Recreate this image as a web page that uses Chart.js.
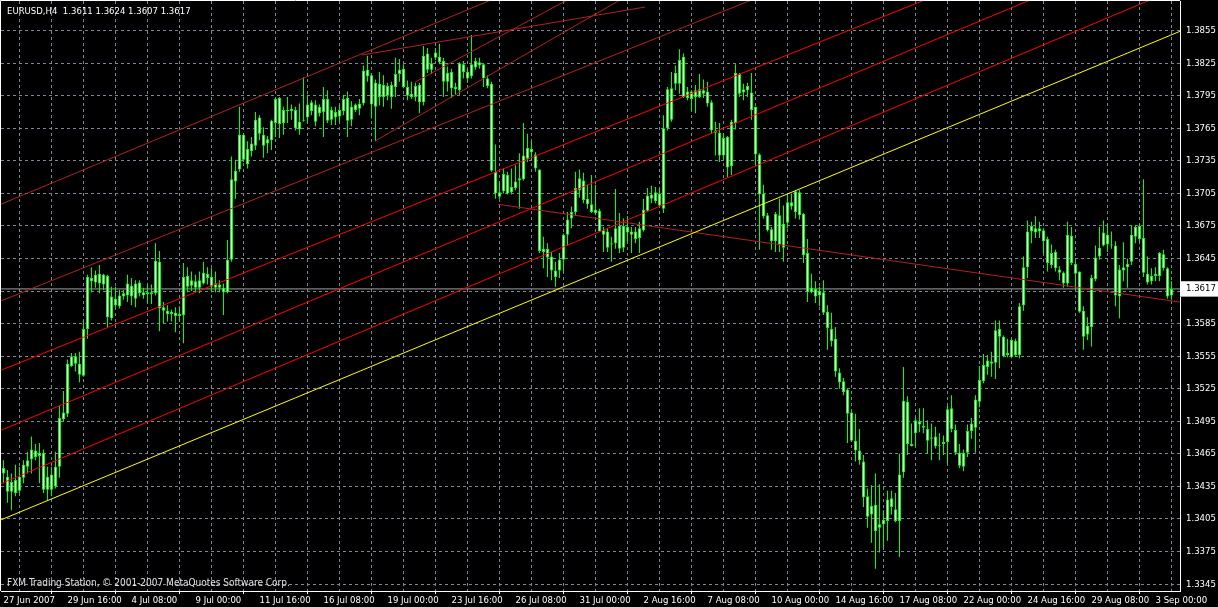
<!DOCTYPE html>
<html>
<head>
<meta charset="utf-8">
<script src="https://cdn.jsdelivr.net/npm/chart.js@4/dist/chart.umd.min.js"></script>
<style>
    html, body { margin: 0; padding: 0; background: #000; }
    #wrap { position: relative; width: 1218px; height: 607px; overflow: hidden; background: #000; }
    canvas { display: block; }
    .lbl { position: absolute; color: #fff; font-family: "DejaVu Sans Condensed", "Liberation Sans", sans-serif; white-space: pre; }
</style>
</head>
<body>
<div id="wrap">
    <canvas id="chart" width="1218" height="607"></canvas>
    <div class="lbl" id="header" style="left:7px; top:5px; font-size:9.5px; line-height:11px;"></div>
    <div class="lbl" id="copy" style="left:7px; top:577px; font-size:10px; line-height:11px; color:#e0e0e0;">FXM Trading Station, © 2001-2007 MetaQuotes Software Corp.</div>
</div>
<script>
const symbol = 'EURUSD,H4';

// time labels, one every 16 bars (H4)
const timeLabels = ['27 Jun 2007', '29 Jun 16:00', '4 Jul 08:00', '9 Jul 00:00', '11 Jul 16:00', '16 Jul 08:00',
    '19 Jul 00:00', '23 Jul 16:00', '26 Jul 08:00', '31 Jul 00:00', '2 Aug 16:00', '7 Aug 08:00', '10 Aug 00:00',
    '14 Aug 16:00', '17 Aug 08:00', '22 Aug 00:00', '24 Aug 16:00', '29 Aug 08:00', '3 Sep 00:00'];

const priceTicks = [1.3345, 1.3375, 1.3405, 1.3435, 1.3465, 1.3495, 1.3525, 1.3555, 1.3585, 1.3615,
    1.3645, 1.3675, 1.3705, 1.3735, 1.3765, 1.3795, 1.3825, 1.3855];
const hiddenTick = 1.3615;
const bidPrice = 1.3617;

const opens = [
    1.3447, 1.3444, 1.3430, 1.3441, 1.3431, 1.3443, 1.3453, 1.3460, 1.3468, 1.3463,
    1.3466, 1.3432, 1.3446, 1.3435, 1.3453, 1.3497, 1.3502, 1.3546, 1.3555, 1.3548,
    1.3537, 1.3580, 1.3627, 1.3623, 1.3631, 1.3621, 1.3629, 1.3590, 1.3608, 1.3601,
    1.3610, 1.3611, 1.3620, 1.3608, 1.3623, 1.3614, 1.3612, 1.3614, 1.3613, 1.3642,
    1.3600, 1.3597, 1.3594, 1.3595, 1.3592, 1.3593, 1.3629, 1.3620, 1.3624, 1.3618,
    1.3622, 1.3631, 1.3628, 1.3622, 1.3618, 1.3618, 1.3614, 1.3644, 1.3716, 1.3727,
    1.3759, 1.3732, 1.3744, 1.3749, 1.3775, 1.3759, 1.3751, 1.3754, 1.3770, 1.3793,
    1.3770, 1.3782, 1.3781, 1.3782, 1.3764, 1.3772, 1.3775, 1.3789, 1.3787, 1.3779,
    1.3780, 1.3792, 1.3773, 1.3780, 1.3776, 1.3781, 1.3793, 1.3773, 1.3782, 1.3783,
    1.3788, 1.3813, 1.3814, 1.3785, 1.3806, 1.3794, 1.3804, 1.3794, 1.3803, 1.3815,
    1.3820, 1.3803, 1.3794, 1.3794, 1.3805, 1.3789, 1.3834, 1.3819, 1.3830, 1.3831,
    1.3827, 1.3808, 1.3817, 1.3801, 1.3800, 1.3824, 1.3817, 1.3813, 1.3821, 1.3826,
    1.3824, 1.3811, 1.3806, 1.3725, 1.3706, 1.3707, 1.3722, 1.3706, 1.3710, 1.3717,
    1.3718, 1.3737, 1.3746, 1.3741, 1.3727, 1.3651, 1.3654, 1.3647, 1.3634, 1.3634,
    1.3644, 1.3667, 1.3682, 1.3688, 1.3708, 1.3717, 1.3700, 1.3695, 1.3687, 1.3689,
    1.3671, 1.3670, 1.3658, 1.3659, 1.3675, 1.3655, 1.3674, 1.3670, 1.3670, 1.3664,
    1.3671, 1.3689, 1.3704, 1.3698, 1.3705, 1.3691, 1.3765, 1.3802, 1.3806, 1.3806,
    1.3831, 1.3793, 1.3799, 1.3794, 1.3801, 1.3797, 1.3799, 1.3789, 1.3763, 1.3761,
    1.3740, 1.3757, 1.3730, 1.3770, 1.3815, 1.3798, 1.3800, 1.3798, 1.3785, 1.3741,
    1.3705, 1.3685, 1.3672, 1.3661, 1.3685, 1.3655, 1.3678, 1.3697, 1.3688, 1.3706,
    1.3686, 1.3650, 1.3614, 1.3617, 1.3611, 1.3614, 1.3596, 1.3580, 1.3571, 1.3540,
    1.3532, 1.3524, 1.3503, 1.3477, 1.3468, 1.3458, 1.3426, 1.3409, 1.3418, 1.3397,
    1.3400, 1.3403, 1.3424, 1.3414, 1.3403, 1.3448, 1.3513, 1.3474, 1.3484, 1.3495,
    1.3491, 1.3488, 1.3479, 1.3481, 1.3472, 1.3474, 1.3476, 1.3507, 1.3487, 1.3466,
    1.3453, 1.3466, 1.3486, 1.3489, 1.3513, 1.3532, 1.3545, 1.3550, 1.3549, 1.3580,
    1.3573, 1.3556, 1.3570, 1.3556, 1.3556, 1.3602, 1.3637, 1.3670, 1.3673, 1.3670,
    1.3671, 1.3663, 1.3639, 1.3651, 1.3635, 1.3632, 1.3622, 1.3666, 1.3640, 1.3633,
    1.3597, 1.3575, 1.3582, 1.3626, 1.3647, 1.3657, 1.3667, 1.3658, 1.3657, 1.3610,
    1.3634, 1.3637, 1.3642, 1.3665, 1.3675, 1.3664, 1.3631, 1.3624, 1.3629, 1.3629,
    1.3649, 1.3636, 1.3611
];

const highs = [
    1.3459, 1.3450, 1.3447, 1.3455, 1.3453, 1.3459, 1.3467, 1.3481, 1.3474, 1.3475,
    1.3469, 1.3453, 1.3453, 1.3467, 1.3509, 1.3523, 1.3552, 1.3558, 1.3558, 1.3559,
    1.3588, 1.3630, 1.3637, 1.3634, 1.3639, 1.3631, 1.3630, 1.3619, 1.3619, 1.3616,
    1.3616, 1.3630, 1.3627, 1.3625, 1.3625, 1.3618, 1.3621, 1.3621, 1.3659, 1.3652,
    1.3605, 1.3602, 1.3598, 1.3600, 1.3601, 1.3641, 1.3637, 1.3633, 1.3630, 1.3633,
    1.3642, 1.3637, 1.3636, 1.3633, 1.3625, 1.3622, 1.3662, 1.3739, 1.3736, 1.3785,
    1.3760, 1.3753, 1.3757, 1.3780, 1.3777, 1.3766, 1.3758, 1.3773, 1.3793, 1.3794,
    1.3785, 1.3794, 1.3787, 1.3785, 1.3788, 1.3812, 1.3796, 1.3791, 1.3791, 1.3787,
    1.3803, 1.3800, 1.3785, 1.3785, 1.3787, 1.3796, 1.3799, 1.3790, 1.3788, 1.3792,
    1.3823, 1.3832, 1.3816, 1.3810, 1.3817, 1.3814, 1.3807, 1.3808, 1.3830, 1.3829,
    1.3824, 1.3809, 1.3808, 1.3807, 1.3807, 1.3841, 1.3839, 1.3830, 1.3839, 1.3843,
    1.3830, 1.3822, 1.3820, 1.3807, 1.3826, 1.3827, 1.3820, 1.3851, 1.3830, 1.3830,
    1.3825, 1.3814, 1.3808, 1.3750, 1.3716, 1.3728, 1.3725, 1.3728, 1.3731, 1.3742,
    1.3770, 1.3760, 1.3753, 1.3743, 1.3727, 1.3665, 1.3659, 1.3651, 1.3642, 1.3650,
    1.3668, 1.3688, 1.3693, 1.3725, 1.3727, 1.3724, 1.3713, 1.3722, 1.3713, 1.3691,
    1.3674, 1.3673, 1.3665, 1.3709, 1.3687, 1.3682, 1.3684, 1.3674, 1.3674, 1.3679,
    1.3700, 1.3710, 1.3712, 1.3711, 1.3710, 1.3777, 1.3803, 1.3817, 1.3823, 1.3838,
    1.3834, 1.3803, 1.3800, 1.3805, 1.3815, 1.3810, 1.3808, 1.3791, 1.3771, 1.3770,
    1.3760, 1.3758, 1.3773, 1.3824, 1.3816, 1.3806, 1.3807, 1.3816, 1.3785, 1.3742,
    1.3713, 1.3687, 1.3674, 1.3688, 1.3700, 1.3694, 1.3704, 1.3705, 1.3708, 1.3708,
    1.3687, 1.3663, 1.3631, 1.3624, 1.3619, 1.3625, 1.3602, 1.3595, 1.3582, 1.3544,
    1.3535, 1.3525, 1.3504, 1.3502, 1.3488, 1.3464, 1.3433, 1.3436, 1.3447, 1.3437,
    1.3413, 1.3431, 1.3431, 1.3429, 1.3465, 1.3545, 1.3518, 1.3493, 1.3498, 1.3507,
    1.3507, 1.3496, 1.3493, 1.3490, 1.3484, 1.3482, 1.3509, 1.3519, 1.3492, 1.3474,
    1.3469, 1.3492, 1.3498, 1.3519, 1.3546, 1.3557, 1.3556, 1.3559, 1.3588, 1.3588,
    1.3574, 1.3571, 1.3571, 1.3571, 1.3604, 1.3647, 1.3680, 1.3679, 1.3684, 1.3679,
    1.3673, 1.3665, 1.3658, 1.3653, 1.3638, 1.3633, 1.3679, 1.3674, 1.3642, 1.3633,
    1.3601, 1.3591, 1.3630, 1.3657, 1.3674, 1.3680, 1.3677, 1.3670, 1.3661, 1.3639,
    1.3660, 1.3645, 1.3676, 1.3676, 1.3677, 1.3718, 1.3647, 1.3636, 1.3637, 1.3651,
    1.3653, 1.3637, 1.3624
];

const lows = [
    1.3438, 1.3420, 1.3413, 1.3426, 1.3429, 1.3438, 1.3447, 1.3447, 1.3459, 1.3438,
    1.3429, 1.3422, 1.3426, 1.3433, 1.3443, 1.3495, 1.3499, 1.3545, 1.3541, 1.3531,
    1.3536, 1.3571, 1.3614, 1.3618, 1.3613, 1.3616, 1.3582, 1.3588, 1.3600, 1.3599,
    1.3607, 1.3605, 1.3602, 1.3600, 1.3610, 1.3608, 1.3604, 1.3603, 1.3611, 1.3578,
    1.3585, 1.3587, 1.3587, 1.3577, 1.3587, 1.3567, 1.3614, 1.3615, 1.3614, 1.3613,
    1.3621, 1.3621, 1.3614, 1.3614, 1.3614, 1.3593, 1.3613, 1.3642, 1.3700, 1.3725,
    1.3734, 1.3728, 1.3739, 1.3745, 1.3754, 1.3738, 1.3742, 1.3745, 1.3757, 1.3756,
    1.3759, 1.3770, 1.3773, 1.3763, 1.3759, 1.3771, 1.3770, 1.3777, 1.3767, 1.3776,
    1.3757, 1.3770, 1.3768, 1.3768, 1.3771, 1.3777, 1.3757, 1.3767, 1.3780, 1.3777,
    1.3786, 1.3808, 1.3774, 1.3753, 1.3786, 1.3785, 1.3791, 1.3783, 1.3794, 1.3808,
    1.3802, 1.3791, 1.3792, 1.3790, 1.3779, 1.3786, 1.3816, 1.3815, 1.3828, 1.3824,
    1.3794, 1.3799, 1.3793, 1.3796, 1.3796, 1.3811, 1.3807, 1.3811, 1.3819, 1.3820,
    1.3803, 1.3802, 1.3725, 1.3700, 1.3700, 1.3705, 1.3704, 1.3704, 1.3708, 1.3691,
    1.3717, 1.3734, 1.3736, 1.3725, 1.3650, 1.3636, 1.3628, 1.3625, 1.3619, 1.3627,
    1.3633, 1.3657, 1.3673, 1.3685, 1.3701, 1.3696, 1.3691, 1.3687, 1.3685, 1.3670,
    1.3651, 1.3651, 1.3642, 1.3654, 1.3650, 1.3651, 1.3661, 1.3650, 1.3659, 1.3650,
    1.3670, 1.3688, 1.3696, 1.3696, 1.3693, 1.3687, 1.3763, 1.3771, 1.3800, 1.3797,
    1.3793, 1.3791, 1.3781, 1.3779, 1.3793, 1.3793, 1.3785, 1.3760, 1.3740, 1.3734,
    1.3736, 1.3720, 1.3722, 1.3764, 1.3794, 1.3791, 1.3794, 1.3773, 1.3730, 1.3653,
    1.3682, 1.3670, 1.3653, 1.3651, 1.3651, 1.3642, 1.3673, 1.3690, 1.3682, 1.3681,
    1.3641, 1.3605, 1.3613, 1.3604, 1.3601, 1.3593, 1.3561, 1.3564, 1.3536, 1.3525,
    1.3519, 1.3475, 1.3476, 1.3458, 1.3455, 1.3416, 1.3397, 1.3383, 1.3359, 1.3374,
    1.3378, 1.3385, 1.3409, 1.3402, 1.3370, 1.3443, 1.3464, 1.3472, 1.3472, 1.3485,
    1.3484, 1.3465, 1.3459, 1.3470, 1.3459, 1.3464, 1.3456, 1.3485, 1.3464, 1.3452,
    1.3449, 1.3462, 1.3479, 1.3466, 1.3508, 1.3530, 1.3538, 1.3536, 1.3534, 1.3544,
    1.3554, 1.3554, 1.3553, 1.3555, 1.3553, 1.3597, 1.3627, 1.3659, 1.3664, 1.3664,
    1.3650, 1.3633, 1.3636, 1.3633, 1.3625, 1.3618, 1.3619, 1.3639, 1.3616, 1.3595,
    1.3561, 1.3570, 1.3564, 1.3624, 1.3644, 1.3656, 1.3651, 1.3654, 1.3601, 1.3590,
    1.3624, 1.3618, 1.3639, 1.3659, 1.3661, 1.3628, 1.3621, 1.3621, 1.3624, 1.3624,
    1.3634, 1.3608, 1.3607
];

const closes = [
    1.3452, 1.3430, 1.3439, 1.3429, 1.3444, 1.3455, 1.3459, 1.3469, 1.3462, 1.3466,
    1.3432, 1.3444, 1.3432, 1.3453, 1.3498, 1.3503, 1.3548, 1.3555, 1.3548, 1.3538,
    1.3580, 1.3628, 1.3624, 1.3630, 1.3622, 1.3630, 1.3591, 1.3610, 1.3602, 1.3611,
    1.3613, 1.3622, 1.3610, 1.3622, 1.3613, 1.3611, 1.3614, 1.3612, 1.3643, 1.3599,
    1.3597, 1.3594, 1.3596, 1.3592, 1.3594, 1.3628, 1.3619, 1.3625, 1.3618, 1.3625,
    1.3632, 1.3627, 1.3619, 1.3618, 1.3621, 1.3614, 1.3644, 1.3718, 1.3726, 1.3759,
    1.3736, 1.3746, 1.3751, 1.3773, 1.3760, 1.3749, 1.3755, 1.3772, 1.3792, 1.3769,
    1.3782, 1.3781, 1.3783, 1.3765, 1.3771, 1.3773, 1.3787, 1.3781, 1.3771, 1.3785,
    1.3792, 1.3772, 1.3782, 1.3775, 1.3782, 1.3792, 1.3772, 1.3785, 1.3787, 1.3788,
    1.3818, 1.3819, 1.3787, 1.3807, 1.3794, 1.3805, 1.3795, 1.3805, 1.3815, 1.3819,
    1.3803, 1.3795, 1.3797, 1.3804, 1.3789, 1.3832, 1.3819, 1.3825, 1.3835, 1.3826,
    1.3808, 1.3816, 1.3802, 1.3803, 1.3825, 1.3817, 1.3811, 1.3824, 1.3827, 1.3823,
    1.3811, 1.3804, 1.3726, 1.3705, 1.3702, 1.3723, 1.3705, 1.3711, 1.3716, 1.3719,
    1.3740, 1.3747, 1.3743, 1.3728, 1.3652, 1.3654, 1.3646, 1.3634, 1.3628, 1.3644,
    1.3667, 1.3681, 1.3688, 1.3710, 1.3719, 1.3699, 1.3695, 1.3688, 1.3690, 1.3670,
    1.3667, 1.3655, 1.3659, 1.3673, 1.3654, 1.3675, 1.3669, 1.3667, 1.3663, 1.3673,
    1.3690, 1.3703, 1.3700, 1.3706, 1.3694, 1.3765, 1.3801, 1.3773, 1.3816, 1.3828,
    1.3794, 1.3799, 1.3792, 1.3800, 1.3794, 1.3800, 1.3788, 1.3763, 1.3761, 1.3740,
    1.3756, 1.3729, 1.3771, 1.3816, 1.3797, 1.3801, 1.3804, 1.3782, 1.3741, 1.3704,
    1.3684, 1.3671, 1.3661, 1.3686, 1.3658, 1.3677, 1.3697, 1.3693, 1.3707, 1.3685,
    1.3648, 1.3614, 1.3618, 1.3610, 1.3615, 1.3595, 1.3581, 1.3569, 1.3541, 1.3531,
    1.3522, 1.3502, 1.3477, 1.3468, 1.3459, 1.3425, 1.3407, 1.3417, 1.3394, 1.3400,
    1.3404, 1.3423, 1.3416, 1.3403, 1.3446, 1.3514, 1.3474, 1.3472, 1.3496, 1.3492,
    1.3489, 1.3477, 1.3480, 1.3472, 1.3473, 1.3476, 1.3506, 1.3488, 1.3466, 1.3454,
    1.3466, 1.3486, 1.3493, 1.3515, 1.3533, 1.3547, 1.3551, 1.3548, 1.3579, 1.3573,
    1.3555, 1.3558, 1.3554, 1.3569, 1.3601, 1.3637, 1.3670, 1.3675, 1.3669, 1.3673,
    1.3661, 1.3641, 1.3650, 1.3636, 1.3632, 1.3622, 1.3667, 1.3641, 1.3631, 1.3596,
    1.3573, 1.3583, 1.3627, 1.3646, 1.3655, 1.3669, 1.3658, 1.3657, 1.3611, 1.3635,
    1.3637, 1.3640, 1.3667, 1.3674, 1.3663, 1.3632, 1.3623, 1.3629, 1.3631, 1.3650,
    1.3636, 1.3610, 1.3617
];

// drawn objects: [bar index, price] end points
const yellowLine = [[-0.6, 1.34042], [294.1, 1.38544]];
const redLines = [
    [[-0.6, 1.35421], [294.1, 1.39776]],
    [[-0.6, 1.34868], [294.1, 1.39410]],
    [[-0.6, 1.34376], [294.1, 1.38949]]
];
const darkRedLines = [
    [[-0.6, 1.36951], [294.1, 1.41480]],
    [[-0.6, 1.36060], [294.1, 1.40416]],
    [[123.7, 1.36950], [294.1, 1.36049]],
    [[89.6, 1.38326], [160.4, 1.38768]],
    [[92.9, 1.37533], [159.1, 1.38939]],
    [[102.9, 1.38077], [149.1, 1.38995]]
];

const last = opens.length - 1;
document.getElementById('header').textContent =
    `${symbol}  ${opens[last].toFixed(4)} ${highs[last].toFixed(4)} ${lows[last].toFixed(4)} ${closes[last].toFixed(4)}`;

const FONT = { family: '"DejaVu Sans Condensed", "Liberation Sans", sans-serif', size: 9.5 };
const GRID = '#778899';

function lineSet(points, color) {
    return {
        type: 'line',
        data: points.map(p => ({ x: p[0], y: p[1] })),
        borderColor: color,
        borderWidth: 1,
        pointRadius: 0,
        fill: false,
        tension: 0,
        order: 0
    };
}

const datasets = [
    lineSet(yellowLine, '#ffff00'),
    ...redLines.map(l => lineSet(l, '#ff0000')),
    ...darkRedLines.map(l => lineSet(l, '#b22222')),
    {
        type: 'bar',
        data: opens.map((o, i) => ({ x: i, y: [o, closes[i]] })),
        backgroundColor: '#ffffff',
        borderColor: '#00ff00',
        borderWidth: 1,
        borderSkipped: false,
        barThickness: 3,
        minBarLength: 1,
        inflateAmount: 0,
        grouped: false,
        order: 2
    },
    {
        type: 'bar',
        data: lows.map((l, i) => ({ x: i, y: [l, highs[i]] })),
        backgroundColor: '#00ff00',
        borderWidth: 0,
        barThickness: 1,
        inflateAmount: 0,
        grouped: false,
        order: 3
    },
    {
        type: 'line',
        data: [{ x: -0.6, y: bidPrice }, { x: 294.1, y: bidPrice }],
        borderColor: '#a0a0a0',
        borderWidth: 1,
        pointRadius: 0,
        order: 4
    }
];

// top and left edge of the plot frame
const frame = {
    id: 'frame',
    afterDraw(chart) {
        const { ctx, chartArea: a } = chart;
        ctx.save();
        ctx.strokeStyle = '#ffffff';
        ctx.lineWidth = 1;
        ctx.beginPath();
        ctx.moveTo(a.left - 0.5, a.bottom);
        ctx.lineTo(a.left - 0.5, a.top - 0.5);
        ctx.lineTo(a.right, a.top - 0.5);
        ctx.stroke();
        ctx.restore();
    }
};

new Chart(document.getElementById('chart'), {
    type: 'bar',
    data: { datasets },
    plugins: [frame],
    options: {
        responsive: false,
        animation: false,
        devicePixelRatio: 1,
        layout: { padding: { left: 1, top: 1, right: 0, bottom: 0 } },
        plugins: { legend: { display: false }, tooltip: { enabled: false } },
        scales: {
            x: {
                type: 'linear',
                min: -0.625,
                max: 294.125,
                offset: false,
                afterBuildTicks: scale => {
                    const t = [];
                    for (let v = 0; v <= 288; v += 8) t.push({ value: v });
                    scale.ticks = t;
                },
                afterFit: scale => {
                    scale.height = 16;
                    scale.paddingLeft = 0;
                    scale.paddingRight = 0;
                },
                ticks: {
                    autoSkip: false,
                    maxRotation: 0,
                    align: 'start',
                    padding: 1,
                    color: '#ffffff',
                    font: FONT,
                    callback: v => (v % 16 === 0 ? timeLabels[v / 16] : '')
                },
                grid: {
                    color: ctx => (ctx.tick && ctx.tick.value === 0 ? 'rgba(0,0,0,0)' : GRID),
                    tickColor: ctx => (ctx.tick && ctx.tick.value % 16 === 0 ? '#ffffff' : 'rgba(0,0,0,0)'),
                    tickLength: 3,
                    lineWidth: 1
                },
                border: { display: true, color: '#ffffff', width: 1, dash: [3, 3] }
            },
            y: {
                type: 'linear',
                position: 'right',
                min: 1.3338594,
                max: 1.3882373,
                afterBuildTicks: scale => {
                    scale.ticks = priceTicks.concat([bidPrice]).map(v => ({ value: v }));
                },
                afterFit: scale => {
                    scale.width = 38;
                    scale.paddingTop = 0;
                    scale.paddingBottom = 0;
                },
                ticks: {
                    padding: 6,
                    font: FONT,
                    color: ctx => (ctx.tick && ctx.tick.value === bidPrice ? '#000000' : '#ffffff'),
                    showLabelBackdrop: ctx => !!(ctx.tick && ctx.tick.value === bidPrice),
                    backdropColor: '#ffffff',
                    backdropPadding: { left: 5, right: 6, top: 2, bottom: 2 },
                    callback: v => (v === hiddenTick ? '' : v.toFixed(4))
                },
                grid: {
                    color: ctx => (ctx.tick && ctx.tick.value === bidPrice ? 'rgba(0,0,0,0)' : GRID),
                    drawTicks: false,
                    lineWidth: 1
                },
                border: { display: true, color: '#ffffff', width: 1, dash: [3, 3] }
            }
        }
    }
});
</script>
</body>
</html>
